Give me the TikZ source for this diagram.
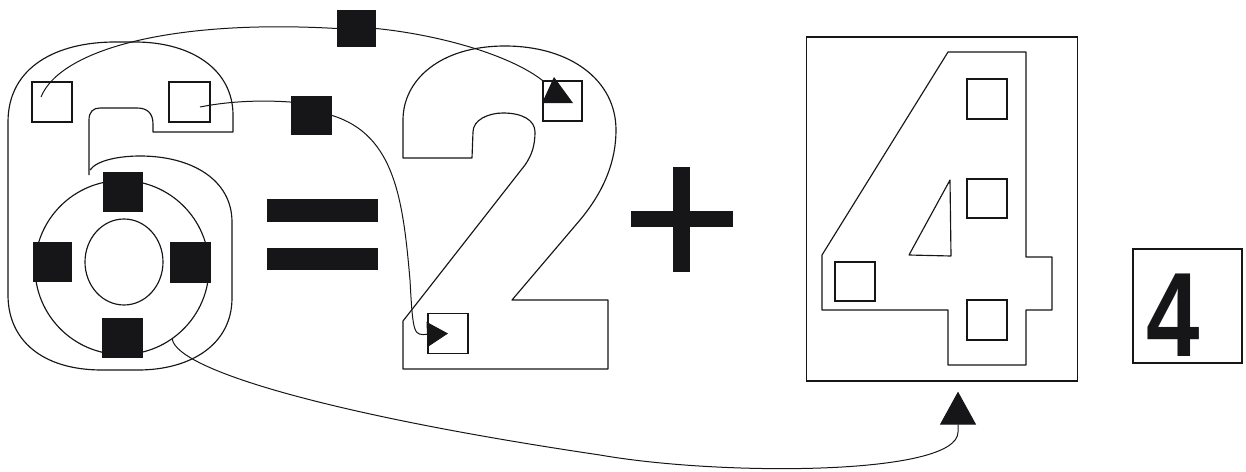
\documentclass[tikz,border=0pt]{standalone}
\usepackage{fontspec}
\newfontfamily\digitfont{Liberation Sans}
\usetikzlibrary{arrows.meta,shapes.geometric}
\definecolor{ink}{RGB}{22,22,24}
\begin{document}
\begin{tikzpicture}[x=1pt,y=-1pt,
  outl/.style={draw=ink,line width=1.15pt,line join=round},
  openbox/.style={draw=ink,line width=1.2pt,rectangle,inner sep=0pt,minimum width=40pt,minimum height=40pt},
  blk/.style={fill=ink,draw=none,rectangle,inner sep=0pt,minimum width=40pt,minimum height=40pt},
  conn/.style={draw=ink,line width=1pt},
  head/.style={fill=ink},
  bar/.style={fill=ink}]
\useasboundingbox (0,0) rectangle (1246,471);

% ---- digit 6 outline ----
\draw[outl] (233,132) -- (153,132) -- (153,124)
  .. controls (153,113) and (147,108) .. (137,108) -- (100,108)
  .. controls (93,108) and (89,112) .. (89,120) -- (89,175);
\draw[outl] (90,170) .. controls (97,160) and (120,156) .. (140,156)
  .. controls (192,156) and (232,180) .. (232,222) -- (232,298)
  .. controls (232,345) and (190,370) .. (138,370) -- (102,370)
  .. controls (42,370) and (8,340) .. (8,295) -- (8,122)
  .. controls (8,66) and (58,42) .. (115,42) -- (135,42)
  .. controls (192,42) and (233,70) .. (233,115) -- (233,132);
\node[circle,draw=ink,line width=1.15pt,minimum size=174pt,inner sep=0pt] (ring) at (122,267.5) {};
\node[ellipse,draw=ink,line width=1.15pt,minimum width=78pt,minimum height=86pt,inner sep=0pt] (hole) at (124,262) {};

% ---- digit 2 outline ----
\draw[outl] (403,369) -- (608,369) -- (608,300) -- (512,300) -- (580,220)
  .. controls (605,190) and (616,160) .. (616,130)
  .. controls (616,80) and (570,46) .. (505,46)
  .. controls (440,46) and (403,80) .. (403,120) -- (403,158) -- (472,158) -- (473,132)
  .. controls (473,120) and (488,113) .. (503,113)
  .. controls (522,113) and (535,120) .. (535,132)
  .. controls (535,145) and (532,155) .. (525,165) -- (403,321) -- cycle;

% ---- digit 4 outline ----
\node[draw=ink,line width=1.2pt,rectangle,inner sep=0pt,minimum width=271pt,minimum height=344pt] (box4) at (942,209) {};
\draw[outl] (822,255) -- (948,52) -- (1026,52) -- (1026,257) -- (1052,257) -- (1052,310)
  -- (1026,310) -- (1026,365) -- (948,365) -- (948,310) -- (822,310) -- cycle;
\draw[outl] (950,180) -- (951,256) -- (909,255) -- cycle;

% ---- equals and plus ----
\fill[bar] (267,199) rectangle (378,222);
\fill[bar] (267,248) rectangle (378,270);
\fill[bar] (631,211) rectangle (733,227);
\fill[bar] (673,167) rectangle (690,272);

% ---- small boxes ----
\node[openbox] (sqA) at (52,102) {};
\node[openbox,minimum width=41pt] (sqB) at (189.5,102) {};
\node[openbox,minimum width=39pt] (sqC) at (562.5,101) {};
\node[openbox] (sqD) at (448,333.5) {};
\node[openbox] (q1) at (987,99) {};
\node[openbox,minimum height=39pt] (q2) at (987,198.5) {};
\node[openbox] (q3) at (987,320) {};
\node[openbox,minimum height=39pt] (q4) at (855,281.5) {};

% ---- filled squares ----
\node[blk,minimum width=39pt,minimum height=37pt] (fillA) at (356.5,28.5) {};
\node[blk,minimum width=41pt,minimum height=39pt] (fillB) at (311.5,115.5) {};
\node[blk] (dT) at (123,192) {};
\node[blk,minimum width=39pt] (dL) at (52.5,262) {};
\node[blk,minimum width=41pt,minimum height=41pt] (dR) at (190.5,262.5) {};
\node[blk,minimum width=41pt] (dB) at (122.5,338) {};

% ---- connectors ----
\coordinate (startA) at ([shift={(-11,-5)}]sqA.center);
\draw[conn] (startA) .. controls (60,50) and (170,19) .. (fillA.west);
\draw[conn] (fillA.east) .. controls (440,35) and (510,55) .. (sqC.north west);
\coordinate (tC) at ([shift={(-8.5,-24)}]sqC.center);
\coordinate (lC) at ([shift={(-20.5,2)}]sqC.center);
\coordinate (rC) at ([shift={(10.5,2)}]sqC.center);
\fill[head] (tC) -- (lC) -- (rC) -- cycle;

\coordinate (startB) at ([shift={(10.5,5)}]sqB.center);
\draw[conn] (startB) .. controls (230,101) and (262,100) .. (fillB.147);
\draw[conn,-{Triangle[length=21pt,width=25pt]}] (fillB.east)
  .. controls (395,135) and (403,200) .. (410,280)
  .. controls (413,336) and (414,335) .. (sqD.center);

\coordinate (tip4) at ([shift={(16,10)}]box4.south);
\draw[conn,-{Triangle[length=33pt,width=36pt]}] (ring.-55)
  .. controls (178,370) and (330,415) .. (600,455)
  .. controls (720,476) and (958,476) .. (958,432) -- (tip4);

% ---- answer box ----
\node[draw=ink,line width=1.2pt,rectangle,inner sep=0pt,minimum width=109pt,minimum height=114pt] (ans) at (1187.5,306) {};
\node[inner sep=0pt,xscale=0.8,font=\digitfont\bfseries\fontsize{120}{120}\selectfont,text=ink] (four) at (1173.5,315) {4};
\end{tikzpicture}
\end{document}
